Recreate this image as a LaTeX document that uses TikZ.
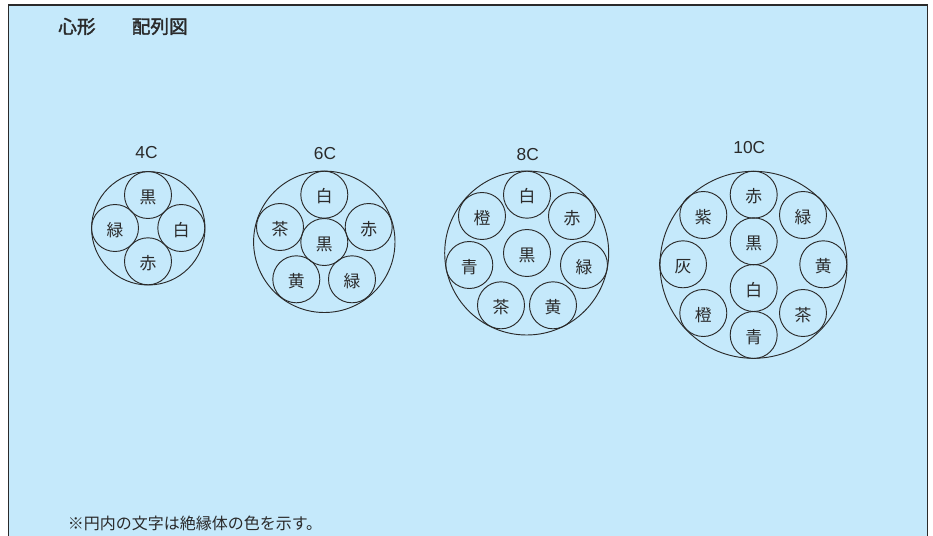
\documentclass[tikz,border=0pt]{standalone}
\usepackage{fontspec}
\setmainfont{Liberation Sans}
\newfontfamily\cjk{Noto Sans CJK JP}
\newfontfamily\cjkm[FakeBold=2]{Noto Sans CJK JP}
\definecolor{panel}{HTML}{C5E9FB}
\definecolor{ink}{HTML}{2A2A2A}
\tikzset{
  x=0.75pt,y=-0.75pt,
  outer/.style={circle,draw=ink,line width=0.7pt,inner sep=0pt,minimum size=#1*1.5pt},
  wire/.style={circle,draw=ink,line width=0.7pt,inner sep=0pt,minimum size=47*0.75pt,font=\cjk\fontsize{12.6}{12.6}\selectfont,text=ink,text height=13.2pt,text depth=1.2pt},
  cnt/.style={font=\fontsize{13}{14}\selectfont,text=ink,inner sep=0pt},
  head/.style={font=\cjkm\fontsize{14}{14}\selectfont,text=ink,inner sep=0pt,anchor=west},
}
\begin{document}
\begin{tikzpicture}
\useasboundingbox (0,0) rectangle (933,536);
\fill[white] (0,0) rectangle (933,536);
\fill[panel] (8.5,5) rectangle (927.5,536);
\draw[ink,line width=0.9pt] (8.5,536) -- (8.5,5) -- (927.5,5) -- (927.5,536);
\node[head] (title1) at (58,26.5) {心形};
\node[head] (title2) at (131.5,26.5) {配列図};
\node[head,font=\cjk\fontsize{12}{12}\selectfont] (note) at (67.5,523) {※円内の文字は絶縁体の色を示す。};
\node[cnt] (l4) at (146.5,153) {4C};
\node[cnt] (l6) at (325,153.5) {6C};
\node[cnt] (l8) at (527.7,155) {8C};
\node[cnt] (l10) at (749.3,148) {10C};
% 4C
\node[outer=56.7] (o4) at (148.3,228.3) {};
\node[wire] (a1) at (148,195) {黒};
\node[wire] (a2) at (115,228) {緑};
\node[wire] (a3) at (181.3,228) {白};
\node[wire] (a4) at (148,261.3) {赤};
% 6C
\node[outer=70.7] (o6) at (324.3,241.8) {};
\node[wire] (b1) at (324.3,194.7) {白};
\node[wire] (b2) at (280,227) {茶};
\node[wire] (b3) at (368.7,227) {赤};
\node[wire] (b4) at (324.3,242) {黒};
\node[wire] (b5) at (296.3,279.3) {黄};
\node[wire] (b6) at (352,279.3) {緑};
% 8C
\node[outer=82] (o8) at (526.7,253) {};
\node[wire] (c1) at (527,194.7) {白};
\node[wire] (c2) at (482,216) {橙};
\node[wire] (c3) at (572,216) {赤};
\node[wire] (c4) at (469.3,265) {青};
\node[wire] (c5) at (527,253) {黒};
\node[wire] (c6) at (584,265) {緑};
\node[wire] (c7) at (501,305.3) {茶};
\node[wire] (c8) at (553,305.3) {黄};
% 10C
\node[outer=93.5] (o10) at (753.5,264.8) {};
\node[wire] (d1) at (753.7,194.7) {赤};
\node[wire] (d2) at (753.7,241.3) {黒};
\node[wire] (d3) at (753.7,288) {白};
\node[wire] (d4) at (753.7,335) {青};
\node[wire] (d5) at (703.3,215) {紫};
\node[wire] (d6) at (803,215) {緑};
\node[wire] (d7) at (683,264.3) {灰};
\node[wire] (d8) at (823.3,264.3) {黄};
\node[wire] (d9) at (703.3,313) {橙};
\node[wire] (d10) at (803,313) {茶};
\end{tikzpicture}
\end{document}
